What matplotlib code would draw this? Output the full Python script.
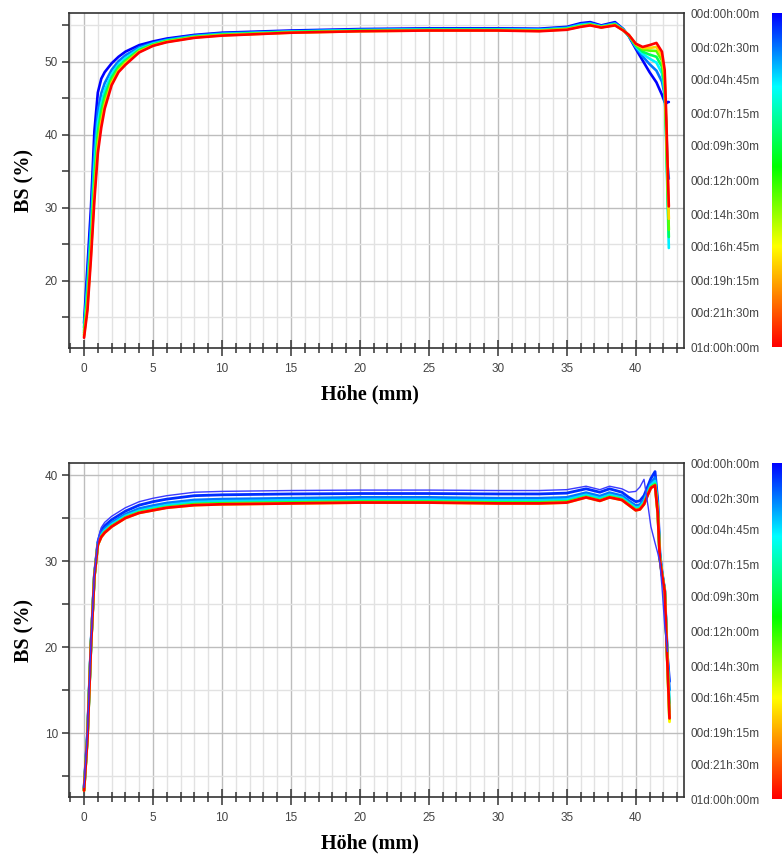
import numpy as np
import matplotlib
matplotlib.use("Agg")
import matplotlib.pyplot as plt
from matplotlib.colors import LinearSegmentedColormap
from matplotlib.ticker import MultipleLocator

plt.rcParams['font.family'] = ['Liberation Sans', 'DejaVu Sans']

# colour bar: scan times (hours) and their labels
scan_ticks = [0, 2.5, 4.75, 7.25, 9.5, 12, 14.5, 16.75, 19.25, 21.5, 24]
scan_labels = ['00d:00h:00m', '00d:02h:30m', '00d:04h:45m', '00d:07h:15m',
               '00d:09h:30m', '00d:12h:00m', '00d:14h:30m', '00d:16h:45m',
               '00d:19h:15m', '00d:21h:30m', '01d:00h:00m']

# ---- top sample: height (mm) and backscattering (%) for each scan time ----
h_top = [0, 0.25, 0.5, 0.75, 1.0, 1.25, 1.5, 2, 2.5, 3, 4, 5, 6, 8, 10, 15, 20, 25, 30,
         33, 35, 36, 36.7, 37.5, 38.5, 39.1, 39.5, 40, 40.5, 41, 41.5, 41.9, 42.1, 42.2, 42.3, 42.4]
t_top = [0, 2.5, 5, 9, 13, 18, 24]
bs_top_0 = [14.2, 22, 30, 40.5, 45.8, 47.7, 48.6, 49.8, 50.7, 51.4, 52.3, 52.8, 53.2, 53.7, 54.0, 54.3, 54.5, 54.6, 54.6,
            54.55, 54.8, 55.3, 55.45, 55.0, 55.45, 54.5, 53.5, 51.8, 50.2, 48.6, 47.2, 45.5, 44.5, 44.3, 44.5, 44.5]
bs_top_2 = [13.6, 20.2, 27.9, 37.65, 43.3, 45.7, 47.1, 48.9, 50.1, 50.9, 52.0, 52.6, 53.05, 53.6, 53.9, 54.2, 54.4, 54.5, 54.5,
            54.45, 54.7, 55.15, 55.3, 54.9, 55.3, 54.45, 53.55, 52.0, 50.75, 49.7, 48.8, 47.3, 45.5, 42.0, 36.0, 34.0]
bs_top_5 = [13.2, 19, 26.5, 35.75, 41.65, 44.35, 46.1, 48.3, 49.65, 50.5, 51.8, 52.5, 52.95, 53.5, 53.8, 54.15, 54.35, 54.45, 54.45,
            54.4, 54.6, 55.05, 55.2, 54.85, 55.2, 54.4, 53.6, 52.15, 51.1, 50.45, 49.9, 48.45, 46.0, 40.0, 32.0, 24.5]
bs_top_9 = [12.9, 18.1, 25.45, 34.3, 40.4, 43.35, 45.35, 47.85, 49.35, 50.2, 51.65, 52.4, 52.9, 53.45, 53.75, 54.1, 54.3, 54.4, 54.4,
            54.3, 54.55, 54.95, 55.15, 54.8, 55.15, 54.35, 53.6, 52.25, 51.4, 51.0, 50.7, 49.35, 46.5, 40.5, 33.0, 26.0]
bs_top_13 = [12.6, 17.2, 24.4, 32.9, 39.2, 42.35, 44.6, 47.4, 49.0, 50.0, 51.5, 52.3, 52.8, 53.4, 53.7, 54.05, 54.25, 54.35, 54.35,
             54.3, 54.5, 54.9, 55.1, 54.75, 55.1, 54.35, 53.65, 52.35, 51.7, 51.55, 51.5, 50.2, 47.0, 41.0, 34.0, 27.0]
bs_top_18 = [12.4, 16.6, 23.7, 31.95, 38.3, 41.7, 44.1, 47.1, 48.8, 49.8, 51.4, 52.25, 52.75, 53.35, 53.65, 54.0, 54.2, 54.3, 54.3,
             54.25, 54.45, 54.85, 55.05, 54.75, 55.05, 54.3, 53.7, 52.45, 51.9, 51.9, 52.05, 50.8, 48.0, 42.0, 35.0, 28.5]
bs_top_24 = [12.2, 16, 23, 31, 37.5, 41, 43.6, 46.8, 48.6, 49.6, 51.3, 52.2, 52.7, 53.3, 53.6, 54.0, 54.2, 54.3, 54.3,
             54.2, 54.4, 54.8, 55.0, 54.7, 55.0, 54.3, 53.7, 52.5, 52.05, 52.3, 52.6, 51.4, 48.9, 43.4, 36.6, 30.2]

# ---- bottom sample ----
h_bot = [0, 0.25, 0.5, 0.75, 1.0, 1.25, 1.5, 2, 2.5, 3, 4, 5, 6, 8, 10, 15, 20, 25, 30, 33, 35,
         36.4, 37.4, 38.1, 39, 39.5, 40, 40.3, 40.6, 40.9, 41.1, 41.4, 41.6, 41.75, 41.9, 42.1, 42.3, 42.45]
t_bot = [1, 2.5, 4.5, 7, 12, 17, 24]
# first scan, drawn thin above the band
bs_bot_0 = [3.7, 10.2, 20.5, 28.5, 32.4, 33.9, 34.5, 35.2, 35.7, 36.2, 36.9, 37.3, 37.6, 38.0, 38.1, 38.2, 38.25, 38.25, 38.2, 38.2, 38.3,
            38.7, 38.3, 38.7, 38.4, 38.0, 38.1, 38.6, 39.5, 36.3, 34.0, 32.1, 30.9, 29.8, 27.1, 22.5, 19.5, np.nan]
bs_bot_1 = [3.6, 10, 20.3, 28.4, 32.2, 33.6, 34.1, 34.8, 35.3, 35.8, 36.5, 36.9, 37.2, 37.6, 37.7, 37.8, 37.85, 37.85, 37.8, 37.8, 37.9,
            38.4, 38.0, 38.4, 38.0, 37.4, 36.9, 37.0, 37.6, 38.8, 39.6, 40.4, 37.0, 31.0, 28.8, 26.7, 19.0, 16.0]
bs_bot_2h5 = [3.5, 9.8, 20.15, 28.3, 32.05, 33.25, 33.75, 34.45, 34.95, 35.45, 36.1, 36.45, 36.75, 37.1, 37.2, 37.3, 37.4, 37.4, 37.3, 37.3, 37.4,
              37.95, 37.55, 37.95, 37.6, 37.0, 36.45, 36.55, 37.15, 38.35, 39.1, 39.7, 36.3, 30.65, 28.65, 26.6, 18.55, 15.0]
bs_bot_4h5 = [3.4, 9.65, 20.1, 28.25, 32.0, 33.05, 33.55, 34.25, 34.75, 35.25, 35.85, 36.2, 36.5, 36.85, 36.95, 37.05, 37.1, 37.1, 37.05, 37.05, 37.15,
              37.7, 37.3, 37.7, 37.35, 36.75, 36.2, 36.3, 36.9, 38.1, 38.85, 39.3, 35.95, 30.45, 28.6, 26.55, 18.3, 13.5]
bs_bot_7 = [3.35, 9.6, 20.05, 28.2, 31.95, 32.9, 33.4, 34.1, 34.6, 35.1, 35.75, 36.05, 36.35, 36.65, 36.75, 36.85, 36.95, 36.95, 36.85, 36.85, 36.95,
            37.55, 37.15, 37.55, 37.25, 36.65, 36.05, 36.15, 36.75, 37.95, 38.65, 39.05, 35.7, 30.3, 28.55, 26.5, 18.15, 12.5]
bs_bot_12 = [3.3, 9.55, 20.0, 28.2, 31.9, 32.85, 33.35, 34.05, 34.55, 35.05, 35.65, 35.95, 36.25, 36.6, 36.7, 36.8, 36.9, 36.9, 36.8, 36.8, 36.9,
             37.45, 37.05, 37.45, 37.15, 36.55, 35.95, 36.05, 36.65, 37.85, 38.6, 38.9, 35.6, 30.25, 28.5, 26.5, 18.05, 11.5]
bs_bot_17 = [3.3, 9.5, 20.0, 28.2, 31.9, 32.8, 33.3, 34.0, 34.5, 35.0, 35.6, 35.9, 36.2, 36.5, 36.6, 36.7, 36.8, 36.8, 36.7, 36.7, 36.8,
             37.4, 37.0, 37.4, 37.1, 36.5, 35.9, 36.0, 36.6, 37.8, 38.5, 38.8, 35.5, 30.2, 28.5, 26.5, 18.0, 11.3]
bs_bot_24 = [3.3, 9.5, 20.0, 28.2, 31.9, 32.8, 33.3, 34.0, 34.5, 35.0, 35.6, 35.9, 36.2, 36.5, 36.6, 36.7, 36.8, 36.8, 36.7, 36.7, 36.8,
             37.4, 37.0, 37.4, 37.1, 36.5, 35.9, 36.0, 36.6, 37.8, 38.5, 38.8, 35.5, 30.2, 28.5, 26.5, 18.0, 11.7]

top_curves = [bs_top_0, bs_top_2, bs_top_5, bs_top_9, bs_top_13, bs_top_18, bs_top_24]
bot_curves = [bs_bot_1, bs_bot_2h5, bs_bot_4h5, bs_bot_7, bs_bot_12, bs_bot_17, bs_bot_24]

# blue -> cyan -> green -> yellow -> red over 24 h
cmap = LinearSegmentedColormap.from_list('scan', [(0, '#0000ff'), (0.22, '#00ffff'), (0.46, '#00ff00'),
                                                  (0.7, '#ffff00'), (1, '#ff0000')])

fig = plt.figure(figsize=(7.82, 8.55), dpi=100)
W, H = 782, 855


def box(l, t, r, b):
    return [l / W, 1 - b / H, (r - l) / W, (b - t) / H]


def style_axes(ax, ylim, ymajor):
    ax.set_xlim(-1.09, 43.5)
    ax.set_ylim(*ylim)
    ax.xaxis.set_major_locator(MultipleLocator(5))
    ax.xaxis.set_minor_locator(MultipleLocator(1))
    ax.yaxis.set_major_locator(MultipleLocator(ymajor))
    ax.yaxis.set_minor_locator(MultipleLocator(ymajor / 2))
    ax.grid(which='major', color='#bdbdbd', lw=1.0)
    ax.grid(which='minor', color='#e2e2e2', lw=1.0)
    ax.set_axisbelow(True)
    for s in ax.spines.values():
        s.set_color('#333333')
        s.set_linewidth(1.2)
    ax.tick_params(axis='x', which='major', direction='inout', length=11, width=1.1,
                   color='#333333', labelcolor='#444444', labelsize=8.5, pad=5)
    ax.tick_params(axis='x', which='minor', direction='inout', length=7, width=1.1, color='#333333')
    ax.tick_params(axis='y', which='both', direction='out', length=5, width=1.1,
                   color='#333333', labelcolor='#444444', labelsize=8.5, pad=3)
    ax.set_xlabel('Höhe (mm)', family='Liberation Serif', fontweight='bold', fontsize=14.5)
    ax.set_ylabel('BS (%)', family='Liberation Serif', fontweight='bold', fontsize=14.5)
    ax.xaxis.set_label_coords(0.489, -0.108)
    ax.yaxis.set_label_coords(-0.056, 0.5)


def colorbar(top, bottom):
    cax = fig.add_axes(box(772, top, 782, bottom))
    cax.imshow(np.linspace(0, 24, 256).reshape(-1, 1), aspect='auto', cmap=cmap, extent=[0, 1, 24, 0])
    cax.set_xticks([])
    cax.set_yticks(scan_ticks)
    cax.set_yticklabels(scan_labels)
    cax.tick_params(axis='y', length=0, pad=9, labelsize=8.5, labelcolor='#444444')
    for s in cax.spines.values():
        s.set_visible(False)


# top chart
ax1 = fig.add_axes(box(69, 13, 684, 348))
for t, bs in zip(t_top, top_curves):
    ax1.plot(h_top, bs, color=cmap(t / 24), lw=1.9, solid_capstyle='round')
style_axes(ax1, (10.8, 56.7), 10)
colorbar(13, 347)

# bottom chart
ax2 = fig.add_axes(box(69, 463, 684, 797))
for t, bs in zip(t_bot, bot_curves):
    ax2.plot(h_bot, bs, color=cmap(t / 24), lw=2.0, solid_capstyle='round')
ax2.plot(h_bot, bs_bot_0, color='#3a3aff', lw=1.0)
style_axes(ax2, (2.56, 41.4), 10)
colorbar(463, 799)

plt.savefig('out.png', dpi=100)
